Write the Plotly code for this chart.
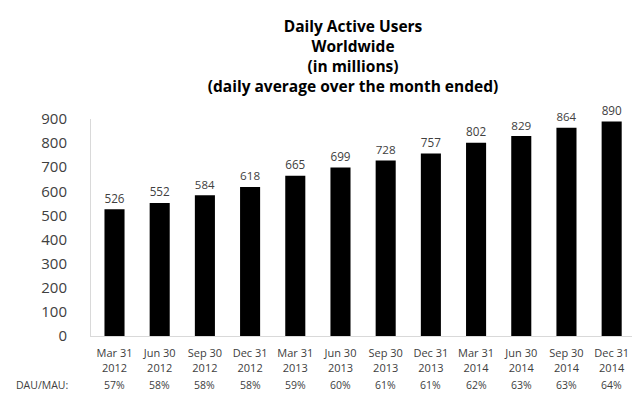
import plotly.graph_objects as go

# Quarter-end dates (two-line tick labels)
quarters = [
    "Mar 31<br>2012", "Jun 30<br>2012", "Sep 30<br>2012", "Dec 31<br>2012",
    "Mar 31<br>2013", "Jun 30<br>2013", "Sep 30<br>2013", "Dec 31<br>2013",
    "Mar 31<br>2014", "Jun 30<br>2014", "Sep 30<br>2014", "Dec 31<br>2014",
]
# Daily active users, millions
dau = [526, 552, 584, 618, 665, 699, 728, 757, 802, 829, 864, 890]
# DAU/MAU ratio per quarter
dau_mau = ["57%", "58%", "58%", "58%", "59%", "60%", "61%", "61%", "62%", "63%", "63%", "64%"]
y_ticks = [0, 100, 200, 300, 400, 500, 600, 700, 800, 900]

FONT = "Open Sans"
TEXT = "#404040"

fig = go.Figure(
    go.Bar(
        x=list(range(len(quarters))),
        y=dau,
        marker=dict(color="#000000", line=dict(width=0)),
        texttemplate="%{y}",
        textposition="outside",
        textfont=dict(family=FONT, size=13, color=TEXT),
        cliponaxis=False,
    )
)

annotations = [
    dict(
        x=i, y=-0.228, xref="x", yref="paper",
        text=v, showarrow=False, xanchor="center", yanchor="middle",
        font=dict(family=FONT, size=10.5, color=TEXT),
    )
    for i, v in enumerate(dau_mau)
]
annotations.append(
    dict(
        x=-0.142, y=-0.228, xref="paper", yref="paper",
        text="DAU/MAU:", showarrow=False, xanchor="left", yanchor="middle",
        font=dict(family=FONT, size=10.5, color=TEXT),
    )
)

fig.update_layout(
    width=632, height=396,
    margin=dict(l=91, r=0, t=119, b=60),
    paper_bgcolor="white", plot_bgcolor="white",
    showlegend=False,
    bargap=0.556,
    title=dict(
        text="<b>Daily Active Users<br>Worldwide<br>(in millions)<br>"
             "(daily average over the month ended)</b>",
        x=353 / 632, xanchor="center", xref="container",
        y=1 - 32 / 396, yanchor="top", yref="container",
        font=dict(family=FONT, size=15.5, color="#000000"),
    ),
    xaxis=dict(
        range=[-0.52, 11.45],
        tickmode="array",
        tickvals=list(range(len(quarters))),
        ticktext=quarters,
        tickfont=dict(family=FONT, size=11, color=TEXT),
        showline=True, linecolor="#d9d9d9", linewidth=1,
        showgrid=False, zeroline=False, ticks="",
        ticklabelstandoff=7,
    ),
    yaxis=dict(
        range=[0, 900],
        tickmode="array",
        tickvals=y_ticks,
        tickfont=dict(family=FONT, size=15, color=TEXT),
        showline=True, linecolor="#d9d9d9", linewidth=1,
        showgrid=False, zeroline=False, ticks="",
        ticklabelstandoff=20,
    ),
    annotations=annotations,
)

fig.write_html("out.html")
